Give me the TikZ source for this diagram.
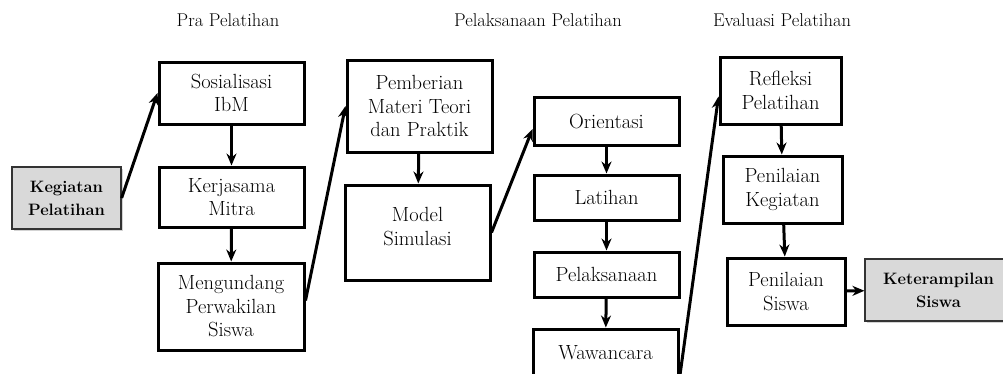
\documentclass[tikz,border=0pt]{standalone}
\usepackage{tikz}
\usetikzlibrary{shadows,arrows.meta}
\definecolor{boxgrey}{rgb}{0.85,0.85,0.85}

\begin{document}
\begin{tikzpicture}[x=1pt,y=-1pt,
  box/.style={draw, line width=3pt, align=center, inner sep=0pt, font=\fontsize{20.5}{23.5}\selectfont},
  greybox/.style={draw=black!80, line width=1.2pt, fill=boxgrey, align=center, inner sep=0pt,
    font=\fontsize{16.5}{23}\selectfont\bfseries,
    drop shadow={opacity=0.35,shadow xshift=1.5pt,shadow yshift=-1.5pt}},
  phase/.style={font=\fontsize{18.5}{20}\selectfont},
  arr/.style={->,>={Stealth[length=12pt,width=10pt]},line width=3pt}]
\clip (0,0) rectangle (1003,373);
% phase titles
\node[phase] (t1) at (228,20) {Pra Pelatihan};
\node[phase] (t2) at (538,20) {Pelaksanaan Pelatihan};
\node[phase] (t3) at (782,20) {Evaluasi Pelatihan};
% start and end
\node[greybox, minimum width=109pt, minimum height=62pt] (keg) at (66.5,198) {Kegiatan\\Pelatihan};
\node[greybox, minimum width=147pt, minimum height=62pt] (ket) at (938.5,290) {Keterampilan\\Siswa};
% pra pelatihan
\node[box, minimum width=145pt, minimum height=62pt] (sos) at (231.5,93) {Sosialisasi\\IbM};
\node[box, minimum width=145pt, minimum height=60pt] (ker) at (231.5,197) {Kerjasama\\Mitra};
\node[box, minimum width=146pt, minimum height=87pt] (men) at (231,306.5) {Mengundang\\Perwakilan\\Siswa};
% pelaksanaan pelatihan
\node[box, minimum width=145pt, minimum height=92pt] (pem) at (419.5,106) {Pemberian\\Materi Teori\\dan Praktik};
\node[box, minimum width=145pt, minimum height=95pt, text depth=12pt] (mod) at (417.5,232.5) {Model\\Simulasi};
\node[box, minimum width=145pt, minimum height=48pt] (ori) at (606.5,121) {Orientasi};
\node[box, minimum width=145pt, minimum height=45pt] (lat) at (606.5,197.5) {Latihan};
\node[box, minimum width=145pt, minimum height=45pt] (pel) at (606.5,274.5) {Pelaksanaan};
\node[box, minimum width=145pt, minimum height=48pt] (waw) at (605.5,353) {Wawancara};
% evaluasi pelatihan
\node[box, minimum width=121pt, minimum height=67pt] (ref) at (780.5,90.5) {Refleksi\\Pelatihan};
\node[box, minimum width=119pt, minimum height=67pt] (pk) at (782.5,189.5) {Penilaian\\Kegiatan};
\node[box, minimum width=118pt, minimum height=67pt] (ps) at (786,291.5) {Penilaian\\Siswa};
% arrows
\draw [arr] (keg.east) -- (sos.west);
\draw [arr] (sos) -- (ker);
\draw [arr] (ker) -- (men);
\draw [arr] ([yshift=6pt]men.east) -- (pem.west);
\draw [arr] (pem) -- (mod);
\draw [arr] (mod.east) -- ([yshift=-8pt]ori.west);
\draw [arr] (ori) -- (lat);
\draw [arr] (lat) -- (pel);
\draw [arr] (pel) -- (waw);
\draw [arr] (waw.south east) -- ([yshift=-6pt]ref.west);
\draw [arr] (ref) -- (pk);
\draw [arr] (pk) -- (ps);
\draw [arr] (ps) -- (ket);
\end{tikzpicture}
\end{document}
